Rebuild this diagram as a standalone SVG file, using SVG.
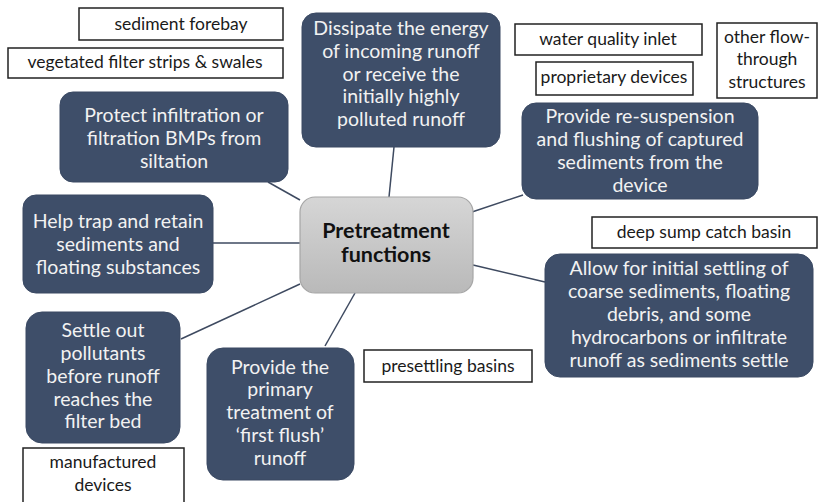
<svg xmlns="http://www.w3.org/2000/svg" width="819" height="502" viewBox="0 0 819 502">
  <defs>
    <linearGradient id="hubFill" x1="0" y1="0" x2="0" y2="1">
      <stop offset="0" stop-color="#d6d6d6"/>
      <stop offset="1" stop-color="#b9b9b9"/>
    </linearGradient>
    <style>
      .fn rect { fill: #3e4e69; stroke: #3a4963; stroke-width: 1; }
      .fn text { font-family: Lato, "Open Sans", "Liberation Sans", sans-serif; font-size: 19.5px; fill: #f2f2f2; text-anchor: middle; }
      .ex rect { fill: #ffffff; stroke: #222222; stroke-width: 1.5; }
      .ex text { font-family: Lato, "Open Sans", "Liberation Sans", sans-serif; font-size: 17.5px; fill: #1a1a1a; text-anchor: middle; }
      .hub rect { fill: url(#hubFill); stroke: #a6a6a6; stroke-width: 1.2; }
      .hub text { font-family: Lato, "Open Sans", "Liberation Sans", sans-serif; font-size: 21.5px; font-weight: bold; fill: #111111; text-anchor: middle; }
      .links line { stroke: #3e4a60; stroke-width: 1.5; }
    </style>
  </defs>

  <rect width="819" height="502" fill="#ffffff"/>

  <!-- connectors from the hub to each function -->
  <g id="connectors" class="links">
    <line x1="268" y1="182" x2="300" y2="200"/>
    <line x1="394" y1="147" x2="389" y2="197"/>
    <line x1="523" y1="195" x2="472" y2="212"/>
    <line x1="213" y1="243" x2="300" y2="243"/>
    <line x1="181" y1="339" x2="300" y2="284"/>
    <line x1="325" y1="346" x2="355" y2="293"/>
    <line x1="473" y1="265" x2="545" y2="282"/>
  </g>

  <!-- central hub -->
  <g id="hub" class="hub">
    <rect x="300" y="197" width="173" height="96" rx="15"/>
    <text x="386" y="238">Pretreatment</text>
    <text x="386" y="262">functions</text>
  </g>

  <!-- pretreatment functions -->
  <g id="fn-protect" class="fn">
    <rect x="60" y="92" width="228" height="90" rx="13"/>
    <text x="174" y="122">Protect infiltration or</text>
    <text x="174" y="145">filtration BMPs from</text>
    <text x="174" y="168">siltation</text>
  </g>

  <g id="fn-dissipate" class="fn">
    <rect x="302" y="13" width="198" height="134" rx="14"/>
    <text x="401" y="35">Dissipate the energy</text>
    <text x="401" y="58">of incoming runoff</text>
    <text x="401" y="81">or receive the</text>
    <text x="401" y="103">initially highly</text>
    <text x="401" y="126">polluted runoff</text>
  </g>

  <g id="fn-resuspension" class="fn">
    <rect x="522" y="103" width="236" height="96" rx="14"/>
    <text x="640" y="123">Provide re-suspension</text>
    <text x="640" y="146">and flushing of captured</text>
    <text x="640" y="169">sediments from the</text>
    <text x="640" y="192">device</text>
  </g>

  <g id="fn-trap" class="fn">
    <rect x="23" y="195" width="190" height="98" rx="13"/>
    <text x="118" y="228">Help trap and retain</text>
    <text x="118" y="251">sediments and</text>
    <text x="118" y="274">floating substances</text>
  </g>

  <g id="fn-settle" class="fn">
    <rect x="26" y="312" width="154" height="131" rx="16"/>
    <text x="103" y="337">Settle out</text>
    <text x="103" y="360">pollutants</text>
    <text x="103" y="383">before runoff</text>
    <text x="103" y="406">reaches the</text>
    <text x="103" y="428">filter bed</text>
  </g>

  <g id="fn-primary" class="fn">
    <rect x="207" y="348" width="147" height="132" rx="16"/>
    <text x="280" y="374">Provide the</text>
    <text x="280" y="396">primary</text>
    <text x="280" y="419">treatment of</text>
    <text x="280" y="442">‘first flush’</text>
    <text x="280" y="465">runoff</text>
  </g>

  <g id="fn-settling" class="fn">
    <rect x="545" y="254" width="268" height="123" rx="15"/>
    <text x="679" y="275">Allow for initial settling of</text>
    <text x="679" y="298">coarse sediments, floating</text>
    <text x="679" y="321">debris, and some</text>
    <text x="679" y="344">hydrocarbons or infiltrate</text>
    <text x="679" y="367">runoff as sediments settle</text>
  </g>

  <!-- example practices -->
  <g id="ex-forebay" class="ex">
    <rect x="79" y="8" width="204" height="32"/>
    <text x="181" y="30">sediment forebay</text>
  </g>

  <g id="ex-filter-strips" class="ex">
    <rect x="8" y="48" width="275" height="30"/>
    <text x="145" y="68">vegetated filter strips &amp; swales</text>
  </g>

  <g id="ex-wq-inlet" class="ex">
    <rect x="515" y="24" width="187" height="31"/>
    <text x="608" y="45">water quality inlet</text>
  </g>

  <g id="ex-proprietary" class="ex">
    <rect x="536" y="62" width="157" height="33"/>
    <text x="614" y="83">proprietary devices</text>
  </g>

  <g id="ex-flow-through" class="ex">
    <rect x="717" y="23" width="100" height="75"/>
    <text x="767" y="43">other flow-</text>
    <text x="767" y="65">through</text>
    <text x="767" y="88">structures</text>
  </g>

  <g id="ex-sump" class="ex">
    <rect x="592" y="217" width="225" height="31"/>
    <text x="704" y="238">deep sump catch basin</text>
  </g>

  <g id="ex-presettling" class="ex">
    <rect x="364" y="350" width="168" height="32"/>
    <text x="448" y="372">presettling basins</text>
  </g>

  <g id="ex-manufactured" class="ex">
    <rect x="23" y="448" width="161" height="62"/>
    <text x="103" y="468">manufactured</text>
    <text x="103" y="491">devices</text>
  </g>
</svg>
